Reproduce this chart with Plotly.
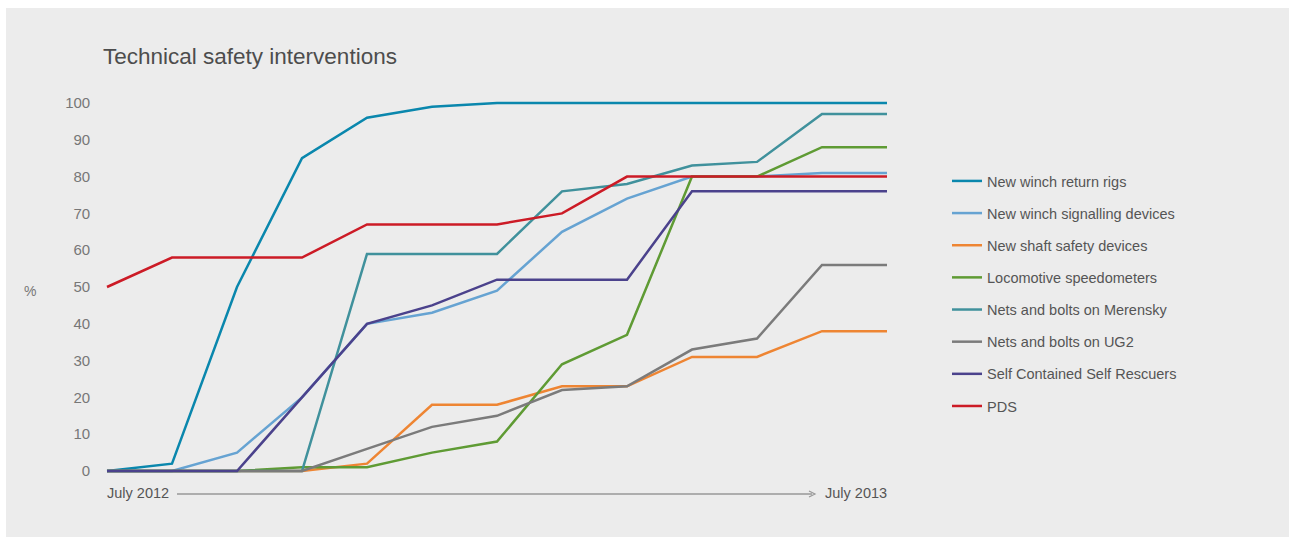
import plotly.graph_objects as go

W, H = 1289, 537

months = list(range(13))  # July 2012 .. July 2013
x_start_label = "July 2012"
x_end_label = "July 2013"

series_names = [
    "New winch return rigs",
    "New winch signalling devices",
    "New shaft safety devices",
    "Locomotive speedometers",
    "Nets and bolts on Merensky",
    "Nets and bolts on UG2",
    "Self Contained Self Rescuers",
    "PDS",
]

winch_return_rigs = [0, 2, 50, 85, 96, 99, 100, 100, 100, 100, 100, 100, 100]
winch_signalling = [0, 0, 5, 20, 40, 43, 49, 65, 74, 80, 80, 81, 81]
shaft_safety = [0, 0, 0, 0, 2, 18, 18, 23, 23, 31, 31, 38, 38]
loco_speedometers = [0, 0, 0, 1, 1, 5, 8, 29, 37, 80, 80, 88, 88]
nets_merensky = [0, 0, 0, 0, 59, 59, 59, 76, 78, 83, 84, 97, 97]
nets_ug2 = [0, 0, 0, 0, 6, 12, 15, 22, 23, 33, 36, 56, 56]
self_rescuers = [0, 0, 0, 20, 40, 45, 52, 52, 52, 76, 76, 76, 76]
pds = [50, 58, 58, 58, 67, 67, 67, 70, 80, 80, 80, 80, 80]

series_values = [winch_return_rigs, winch_signalling, shaft_safety, loco_speedometers,
                 nets_merensky, nets_ug2, self_rescuers, pds]

colors = ["#0a87ad", "#66a3d2", "#ee8533", "#5f9b34", "#40919c", "#7b7b7b", "#4b428c", "#cc1b26"]

y_ticks = list(range(0, 101, 10))

# pixel geometry
x0_px, x12_px = 107, 887
y0_px, y100_px = 471, 103
px_per_x = (x12_px - x0_px) / 12
px_per_y = (y0_px - y100_px) / 100
xr = [-0.12, 12.12]
yr = [-1.2, 101.2]
left = x0_px + xr[0] * px_per_x
right = x0_px + xr[1] * px_per_x
bottom = y0_px - yr[0] * px_per_y
top = y0_px - yr[1] * px_per_y

fig = go.Figure()
for name, vals, c in zip(series_names, series_values, colors):
    fig.add_trace(go.Scatter(
        x=months, y=vals, mode="lines", name=name,
        line=dict(color=c, width=2.5),
        legendgroup=name,
    ))

font_family = "Liberation Sans, Arial, Helvetica, sans-serif"

fig.update_layout(
    width=W, height=H,
    margin=dict(l=0, r=0, t=0, b=0, autoexpand=False),
    paper_bgcolor="white",
    plot_bgcolor="rgba(0,0,0,0)",
    font=dict(family=font_family, color="#666666"),
    showlegend=True,
    legend=dict(
        x=947 / W, y=1 - 165 / H, xanchor="left", yanchor="top",
        bgcolor="rgba(0,0,0,0)", font=dict(size=14.5, color="#555555"),
        tracegroupgap=10.3, itemwidth=30,
    ),
    xaxis=dict(
        domain=[left / W, right / W], range=xr,
        showgrid=False, zeroline=False, showticklabels=False, showline=False, ticks="",
    ),
    yaxis=dict(
        domain=[1 - bottom / H, 1 - top / H], range=yr,
        showgrid=False, zeroline=False, showline=False, ticks="",
        tickvals=y_ticks, ticktext=[str(v) for v in y_ticks],
        tickfont=dict(size=15, color="#777777"),
        ticklabelstandoff=8,
    ),
)

# grey panel
fig.add_shape(type="rect", xref="paper", yref="paper",
              x0=6 / W, x1=1, y0=0, y1=1 - 8 / H,
              fillcolor="#ececec", line=dict(width=0), layer="below")

# title
fig.add_annotation(text="Technical safety interventions", xref="paper", yref="paper",
                   x=101 / W, y=1 - 56 / H, xanchor="left", yanchor="middle",
                   showarrow=False, font=dict(size=22.5, color="#4d4d4d"))
# % label
fig.add_annotation(text="%", xref="paper", yref="paper",
                   x=30 / W, y=1 - 291 / H, xanchor="center", yanchor="middle",
                   showarrow=False, font=dict(size=14, color="#777777"))

# x-axis labels and arrow (paper coordinates)
y_lab = 1 - 493 / H
fig.add_annotation(text=x_start_label, x=105 / W, y=y_lab, xref="paper", yref="paper",
                   xanchor="left", yanchor="middle", showarrow=False,
                   font=dict(size=14.5, color="#555555"))
fig.add_annotation(text=x_end_label, x=889 / W, y=y_lab, xref="paper", yref="paper",
                   xanchor="right", yanchor="middle", showarrow=False,
                   font=dict(size=14.5, color="#555555"))
fig.add_shape(type="line", xref="paper", yref="paper",
              x0=177 / W, x1=812 / W, y0=1 - 494 / H, y1=1 - 494 / H,
              line=dict(color="#999999", width=1.5))
fig.add_shape(type="path", xref="paper", yref="paper",
              path=f"M {809 / W} {1 - 491 / H} L {815 / W} {1 - 494 / H} L {809 / W} {1 - 497 / H}",
              line=dict(color="#999999", width=1.2))

fig.write_html("out.html", config={"displayModeBar": False},
               post_script="document.body.style.margin='0px';")
